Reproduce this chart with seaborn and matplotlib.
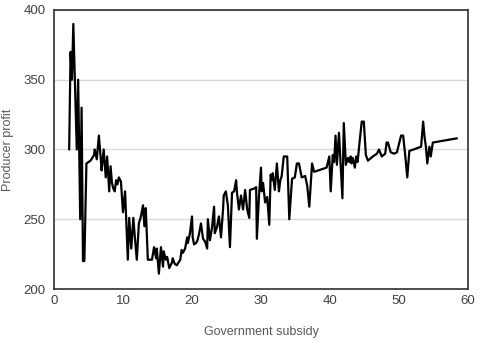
import pandas as pd
import matplotlib
matplotlib.use("Agg")
import matplotlib.pyplot as plt
import seaborn as sns

# values
subsidy = [2.2, 2.4, 2.6, 2.8, 3.3, 3.5, 3.8, 4.0, 4.2, 4.4, 4.7, 5.3, 5.8, 5.9, 6.2, 6.5,
           6.8, 6.9, 7.2, 7.5, 7.7, 8.0, 8.2, 8.4, 8.6, 8.8, 9.0, 9.2, 9.4, 9.7, 10.0, 10.3,
           10.7, 10.9, 11.2, 11.5, 11.7, 12.0, 12.3, 12.6, 12.9, 13.1, 13.3, 13.6, 14.2, 14.5,
           14.8, 14.9, 15.2, 15.5, 15.8, 15.9, 16.2, 16.4, 16.7, 17.1, 17.2, 17.5, 17.8, 18.3,
           18.5, 18.7, 19.0, 19.3, 19.4, 19.7, 20.0, 20.1, 20.3, 20.6, 20.8, 21.0, 21.3, 21.6,
           21.9, 22.2, 22.3, 22.6, 22.9, 23.2, 23.3, 23.6, 23.9, 24.2, 24.5, 24.6, 24.9, 25.2,
           25.5, 25.8, 26.1, 26.4, 26.5, 26.8, 27.1, 27.4, 27.7, 28.0, 28.3, 28.4, 29.0, 29.3,
           29.4, 29.7, 30.0, 30.1, 30.3, 30.6, 30.9, 31.2, 31.4, 31.6, 31.7, 32.0, 32.3, 32.6,
           32.8, 33.0, 33.3, 33.8, 34.1, 34.5, 34.9, 35.2, 35.5, 35.9, 36.4, 36.7, 37.0, 37.4,
           37.7, 39.5, 39.9, 40.1, 40.4, 40.6, 40.8, 41.0, 41.3, 41.6, 41.8, 42.0, 42.3, 42.6,
           42.8, 43.0, 43.1, 43.3, 43.6, 43.8, 44.0, 44.3, 44.6, 44.9, 45.2, 45.5, 46.2, 46.8,
           47.1, 47.5, 48.0, 48.2, 48.4, 48.8, 49.3, 49.7, 50.3, 50.6, 50.9, 51.2, 51.5, 52.1,
           53.2, 53.5, 53.7, 53.9, 54.1, 54.4, 54.6, 54.9, 58.4]
profit = [300, 370, 350, 390, 300, 350, 250, 330, 220, 220, 290, 292, 296, 300, 293, 310,
          292, 285, 300, 280, 295, 270, 288, 276, 272, 270, 278, 275, 280, 277, 255, 270,
          221, 251, 229, 251, 238, 221, 247, 252, 260, 245, 258, 221, 221, 230,
          222, 229, 211, 230, 216, 227, 221, 223, 215, 219, 222, 218, 217, 221,
          228, 226, 229, 237, 233, 240, 252, 237, 232, 233, 235, 239, 247, 236,
          234, 229, 250, 235, 244, 259, 240, 244, 252, 237, 257, 267, 270, 260,
          230, 269, 270, 278, 270, 257, 267, 257, 271, 257, 251, 271, 272, 273,
          236, 266, 287, 270, 276, 262, 266, 246, 282, 278, 283, 271, 290, 270,
          278, 281, 295, 295, 250, 279, 280, 290, 290, 280, 281, 274, 259, 290,
          284, 287, 295, 270, 296, 291, 310, 289, 312, 283, 265, 319, 289, 294,
          291, 295, 290, 294, 287, 295, 291, 306, 320, 320, 296, 292, 295, 297,
          300, 295, 297, 305, 305, 298, 297, 298, 310, 310, 296, 280, 299, 300,
          302, 320, 309, 302, 290, 302, 295, 305, 308]

df = pd.DataFrame({"subsidy": subsidy, "profit": profit})

sns.set_style("white")
plt.rcParams['font.family'] = ['Liberation Sans', 'DejaVu Sans']

fig = plt.figure(figsize=(4.8, 3.4), dpi=100)
ax = fig.add_axes([0.1125, 0.15, 0.8625, 0.8206])

sns.lineplot(data=df, x="subsidy", y="profit", color="black", linewidth=1.6,
             estimator=None, sort=False, ax=ax)

ax.set_xlim(0, 60)
ax.set_ylim(200, 400)
ax.set_xticks(range(0, 61, 10))
ax.set_yticks(range(200, 401, 50))
ax.yaxis.grid(True, color="#d9d9d9", linewidth=1)
ax.set_axisbelow(True)

for side in ["left", "right", "top", "bottom"]:
    ax.spines[side].set_visible(True)
    ax.spines[side].set_color("#303030")
    ax.spines[side].set_linewidth(1.2)

ax.tick_params(axis="x", direction="in", length=4, width=1, color="#303030",
               labelsize=9.5, labelcolor="#404040", pad=4)
ax.tick_params(axis="y", length=0, labelsize=9.5, labelcolor="#404040", pad=6)

ax.set_xlabel("Government subsidy", fontsize=9, color="#595959", labelpad=14)
ax.set_ylabel("Producer profit", fontsize=9, color="#595959", labelpad=7)

fig.savefig("out.png", dpi=100)
